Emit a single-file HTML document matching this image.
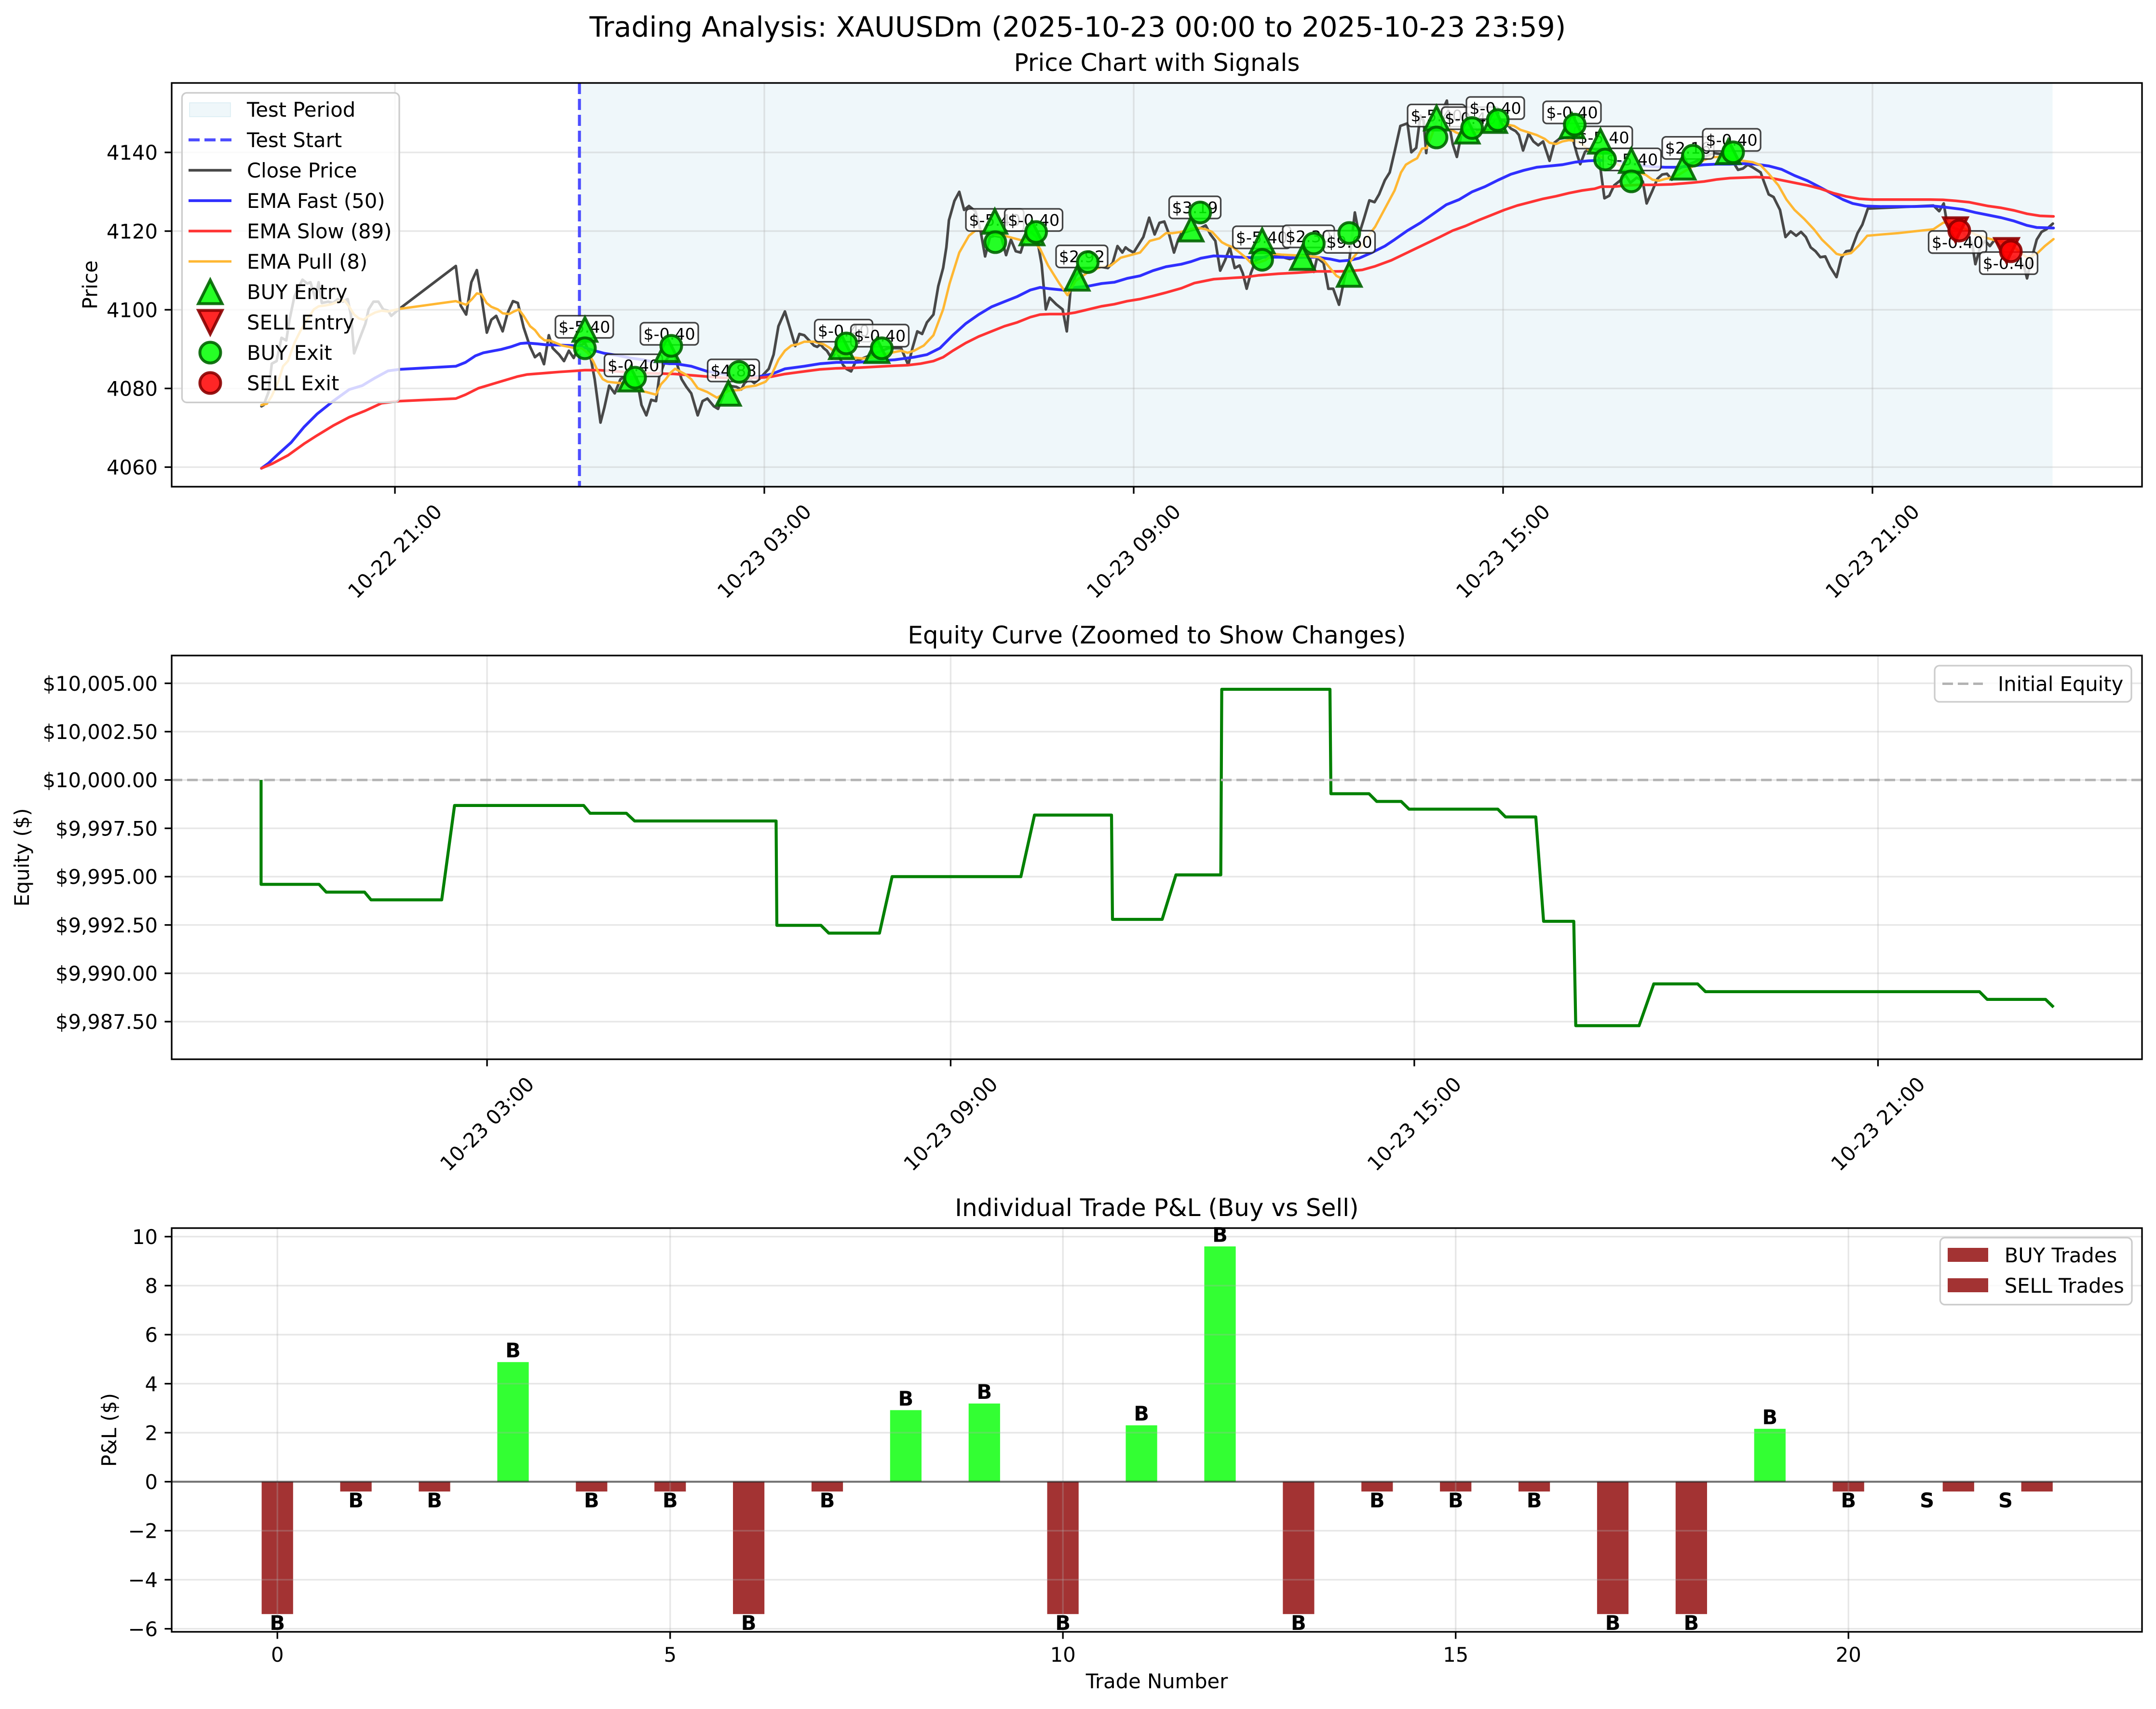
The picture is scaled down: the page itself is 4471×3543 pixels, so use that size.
<!DOCTYPE html>
<html><head><meta charset="utf-8"><style>
html,body{margin:0;padding:0;background:#fff;}
svg{display:block;}
text{font-family:"DejaVu Sans","Liberation Sans",sans-serif;fill:#000;}
.tk{font-size:41.67px;}
.gr{stroke:#b0b0b0;stroke-opacity:0.3;stroke-width:3.33;fill:none;}
.sp{stroke:#000;stroke-width:3.33;fill:none;}
.tm{stroke:#000;stroke-width:3.33;}
.cl{fill:none;stroke:#484848;stroke-width:5.5;stroke-linejoin:round;stroke-linecap:round;}
.bl{fill:none;stroke:#2f2fff;stroke-width:5.8;stroke-linejoin:round;stroke-linecap:round;}
.rd{fill:none;stroke:#ff3333;stroke-width:5.5;stroke-linejoin:round;stroke-linecap:round;}
.og{fill:none;stroke:#ffb732;stroke-width:5;stroke-linejoin:round;stroke-linecap:round;}
.lb rect{fill:#fff;fill-opacity:0.8;stroke:#222;stroke-opacity:0.85;stroke-width:3.3;}
.lb text{font-size:33.3px;text-anchor:middle;}
.be{fill:#00ff00;fill-opacity:0.85;stroke:#006400;stroke-opacity:0.9;stroke-width:6;}
.se{fill:#ff0000;fill-opacity:0.85;stroke:#8b0000;stroke-opacity:0.9;stroke-width:6;}
.bb{fill:#a33333;}
.gb{fill:#33ff33;}
.bt{font-size:41.67px;font-weight:bold;text-anchor:middle;}
</style></head><body>
<svg width="4471" height="3543" viewBox="0 0 4471 3543" xmlns="http://www.w3.org/2000/svg">
<defs>
<path id="tu" d="M0,-24.5 L-24.5,24.5 L24.5,24.5 Z"/>
<path id="td" d="M0,24.5 L-24.5,-24.5 L24.5,-24.5 Z"/>
<clipPath id="c1"><rect x="356" y="172" width="4086" height="837"/></clipPath>
<clipPath id="c2"><rect x="356" y="1359" width="4086" height="837"/></clipPath>
</defs>
<rect x="0" y="0" width="4471" height="3543" fill="#fff"/>

<text x="2235" y="76" style="font-size:58.3px" text-anchor="middle">Trading Analysis: XAUUSDm (2025-10-23 00:00 to 2025-10-23 23:59)</text>

<!-- ============ PRICE CHART ============ -->
<text x="2399" y="147" style="font-size:50px" text-anchor="middle">Price Chart with Signals</text>
<rect x="1201.6" y="172" width="3054.9" height="837" fill="#add8e6" fill-opacity="0.2"/>
<g class="gr">
<line x1="819" y1="172" x2="819" y2="1009"/>
<line x1="1585" y1="172" x2="1585" y2="1009"/>
<line x1="2351" y1="172" x2="2351" y2="1009"/>
<line x1="3117" y1="172" x2="3117" y2="1009"/>
<line x1="3883" y1="172" x2="3883" y2="1009"/>
<line x1="356" y1="968.4" x2="4442" y2="968.4"/>
<line x1="356" y1="805.3" x2="4442" y2="805.3"/>
<line x1="356" y1="642.2" x2="4442" y2="642.2"/>
<line x1="356" y1="479.1" x2="4442" y2="479.1"/>
<line x1="356" y1="316" x2="4442" y2="316"/>
</g>
<line x1="1201.6" y1="172" x2="1201.6" y2="1009" stroke="#4d4dff" stroke-width="6.25" stroke-dasharray="23 10"/>

<g clip-path="url(#c1)">
<g transform="translate(356,170) scale(0.66964,0.53571)">
<polyline vector-effect="non-scaling-stroke" class="cl" points="278,1255 285,1250 300,1200 310,1090 325,1080 340,990 355,1000 365,920 380,830 395,790 405,765 420,780 430,775 445,840 455,775 465,855 485,850 500,855 515,840 530,850 545,840 555,900 565,1050 580,1000 600,935 610,880 625,850 640,850 655,880 670,885 680,905 705,878 880,712 895,865 912,900 928,775 945,728 960,835 976,970 990,920 1005,905 1025,965 1040,895 1057,848 1072,855 1090,950 1110,1025 1125,1065 1140,1050 1153,1092 1168,980 1180,1030 1200,1055 1215,1080 1230,1040 1245,1068 1255,1040 1265,1020 1280,1010 1295,1050 1310,1150 1328,1318 1340,1260 1355,1175 1372,1205 1390,1150 1405,1140 1420,1150 1440,1145 1455,1250 1470,1290 1485,1230 1500,1235 1510,1140 1525,1090 1540,1060 1559,1060"/>
<polyline vector-effect="non-scaling-stroke" class="bl" points="278,1495 300,1475 330,1440 370,1395 410,1335 450,1285 500,1235 550,1190 590,1175 630,1145 670,1118 705,1112 880,1100 910,1085 940,1060 965,1048 990,1042 1020,1035 1050,1025 1080,1012 1100,1010 1130,1013 1160,1017 1200,1018 1240,1020 1280,1028 1310,1040 1340,1050 1380,1058 1420,1068 1460,1075 1500,1085 1540,1090 1559,1090"/>
<polyline vector-effect="non-scaling-stroke" class="rd" points="278,1495 310,1478 360,1445 410,1400 450,1368 500,1330 550,1297 600,1272 650,1243 705,1235 880,1225 910,1210 950,1185 990,1170 1030,1155 1070,1140 1100,1132 1150,1127 1200,1122 1250,1118 1280,1115 1320,1115 1360,1118 1400,1122 1450,1127 1500,1128 1559,1130"/>
<polyline vector-effect="non-scaling-stroke" class="og" points="278,1250 295,1245 310,1215 330,1160 345,1100 360,1080 380,1010 400,960 420,920 440,880 455,868 475,865 495,860 515,850 535,845 550,870 565,900 580,915 595,920 610,905 630,892 650,885 670,888 705,878 880,848 895,855 912,862 930,840 945,818 960,822 975,855 990,870 1010,880 1025,895 1045,898 1060,888 1075,880 1090,905 1110,945 1125,960 1140,985 1155,1000 1170,1000 1190,1010 1210,1020 1230,1025 1250,1030 1270,1030 1290,1050 1305,1080 1320,1120 1335,1150 1350,1160 1370,1163 1390,1165 1410,1170 1430,1180 1450,1195 1470,1200 1485,1205 1500,1210 1515,1170 1530,1150 1545,1125 1559,1110"/>
</g>
<g transform="translate(1400,170) scale(0.66964,0.53571)">
<polyline vector-effect="non-scaling-stroke" class="cl" points="0,1060 8,1100 20,1150 35,1180 50,1205 70,1290 85,1235 100,1225 120,1255 133,1265 150,1210 165,1175 190,1180 205,1190 215,1165 230,1150 245,1165 260,1150 275,1130 290,1110 305,1055 320,945 340,888 355,950 372,1022 385,975 400,980 415,1000 430,1020 440,1025 450,1015 460,1030 470,1040 485,1070 500,1040 520,1095 530,1110 545,1120 560,1080 580,1070 600,1060 620,1050 640,1040 660,1030 680,1030 700,1030 710,1060 722,1095 735,1030 750,965 765,975 780,930 800,900 815,790 830,720 840,640 848,535 865,460 880,425 895,495 910,480 930,500 945,570 960,675 975,600 990,595 1010,600 1025,670 1040,610 1055,655 1070,660 1085,600 1100,580 1120,600 1135,705 1148,880 1160,835 1180,860 1200,880 1213,965 1225,800 1240,750 1260,720 1280,720 1300,715 1320,715 1340,720 1355,700 1370,635 1385,660 1395,640 1405,650 1420,660 1435,630 1450,600 1468,525 1485,590 1500,545 1515,540 1530,590 1545,660 1558,610 1568,585"/>
<polyline vector-effect="non-scaling-stroke" class="bl" points="0,1090 50,1100 100,1120 150,1130 200,1140 260,1140 300,1130 340,1110 400,1100 450,1090 500,1085 560,1085 620,1080 680,1075 740,1065 780,1055 820,1030 860,980 900,935 940,900 980,870 1020,850 1060,830 1100,805 1130,795 1160,800 1200,805 1240,795 1280,790 1320,780 1360,775 1400,760 1440,750 1480,730 1520,715 1568,705"/>
<polyline vector-effect="non-scaling-stroke" class="rd" points="0,1130 50,1135 100,1140 150,1145 200,1145 260,1145 300,1140 340,1130 400,1120 450,1112 500,1108 560,1106 620,1102 680,1098 720,1096 760,1090 800,1080 830,1065 860,1040 900,1010 940,985 980,965 1020,945 1060,930 1100,910 1130,900 1160,898 1210,898 1240,892 1280,880 1320,868 1360,860 1400,848 1440,840 1480,828 1520,815 1568,798"/>
<polyline vector-effect="non-scaling-stroke" class="og" points="0,1110 30,1130 50,1150 70,1185 100,1200 130,1222 165,1195 200,1192 220,1180 250,1175 280,1160 300,1130 320,1075 340,1040 360,1020 380,1015 400,1005 430,1005 460,1015 480,1030 500,1050 540,1065 580,1070 620,1065 660,1050 700,1040 720,1048 740,1040 770,1020 800,980 830,880 850,780 880,660 910,595 930,575 960,575 990,590 1020,595 1050,605 1080,615 1110,615 1130,645 1155,710 1190,780 1215,825 1240,770 1280,735 1320,715 1350,710 1380,680 1410,670 1440,660 1470,615 1500,605 1520,585 1540,585 1568,580"/>
</g>
<g transform="translate(2450,170) scale(0.66964,0.53571)">
<polyline vector-effect="non-scaling-stroke" class="cl" points="0,585 40,570 60,565 75,555 90,590 105,615 120,730 135,690 150,640 165,720 180,710 190,740 202,800 215,740 230,690 250,680 275,670 300,670 320,680 335,685 350,680 370,670 395,670 410,735 420,680 440,700 455,800 470,800 488,862 505,760 520,690 537,505 550,590 565,530 582,458 598,465 612,435 630,380 645,350 660,270 678,170 700,160 712,272 727,255 740,130 750,150 758,275 770,140 785,165 805,120 822,72 830,170 840,240 853,290 868,195 885,190 900,170 920,190 940,140 960,150 980,145 1000,150 1020,180 1035,190 1045,205 1058,265 1075,200 1090,230 1105,245 1120,230 1140,305 1155,235 1170,220 1190,215 1210,210 1225,280 1235,318 1250,270 1270,255 1290,265 1310,450 1325,440 1340,400 1360,380 1375,360 1390,390 1410,370 1418.6,375"/>
<polyline vector-effect="non-scaling-stroke" class="bl" points="0,705 30,695 60,682 100,673 140,675 180,678 220,680 260,678 300,678 340,680 380,678 420,678 460,685 490,693 520,690 550,682 590,660 630,635 660,610 700,575 740,545 780,510 820,475 860,455 900,425 940,405 980,380 1020,357 1060,342 1100,330 1140,325 1180,320 1220,310 1260,305 1300,303 1340,305 1380,312 1418.6,322"/>
<polyline vector-effect="non-scaling-stroke" class="rd" points="0,798 40,778 100,763 160,758 200,755 240,748 300,742 360,738 420,733 480,733 520,732 560,727 600,713 650,690 700,660 750,630 800,600 840,575 880,557 920,535 960,515 1000,495 1040,478 1080,465 1120,452 1160,442 1200,430 1240,420 1280,413 1300,405 1340,405 1380,400 1418.6,398"/>
<polyline vector-effect="non-scaling-stroke" class="og" points="0,580 30,568 55,565 75,570 95,580 110,600 125,620 140,630 160,640 180,660 200,680 215,700 235,700 260,690 285,665 310,668 340,670 370,672 400,675 425,678 440,690 460,720 480,750 495,760 510,730 525,690 545,660 570,610 600,560 630,490 660,420 680,350 695,320 715,305 730,295 745,258 760,255 780,190 800,165 830,180 850,195 870,205 890,200 910,195 940,190 980,165 1010,165 1030,170 1050,185 1075,195 1100,205 1125,220 1140,235 1160,240 1180,230 1200,225 1220,228 1240,240 1260,262 1280,275 1300,290 1330,305 1360,325 1390,335 1418.6,350"/>
</g>
<g transform="translate(3400,170) scale(0.66964,0.53571)">
<polyline vector-effect="non-scaling-stroke" class="cl" points="0,375 10,385 22,470 40,420 55,375 70,358 85,355 100,378 115,340 130,330 150,320 170,310 200,290 230,275 260,280 285,300 305,340 320,335 335,320 350,330 375,350 385,385 400,435 415,445 435,495 452,600 468,578 485,595 500,580 515,600 530,640 545,655 560,678 575,675 590,715 610,755 625,680 640,655 655,652 675,585 690,552 707,490 910,478 928,500 942,470 950,530 965,560 985,570 1000,580 1015,600 1030,625 1040,705 1055,640 1070,615 1085,635 1100,610 1120,640 1140,690 1160,675 1175,690 1190,710 1200,760 1215,680 1230,610 1245,580 1260,570 1280,548"/>
<polyline vector-effect="non-scaling-stroke" class="bl" points="0,322 40,328 80,330 120,330 160,325 200,320 240,318 280,318 320,316 360,318 400,325 440,338 480,362 520,382 560,408 600,435 630,455 660,470 700,480 750,482 800,482 850,482 910,480 950,485 1000,493 1040,505 1080,515 1120,525 1160,538 1200,555 1230,563 1282,565"/>
<polyline vector-effect="non-scaling-stroke" class="rd" points="0,398 50,398 100,396 160,390 200,385 240,377 280,372 320,370 360,368 400,370 440,380 480,390 520,400 560,413 600,430 640,443 680,452 720,455 800,455 900,455 940,456 980,460 1020,465 1040,470 1080,480 1120,487 1160,497 1200,510 1240,518 1282,520"/>
<polyline vector-effect="non-scaling-stroke" class="og" points="0,350 20,360 40,378 60,382 80,375 100,370 120,360 140,345 160,330 180,315 200,302 220,292 240,290 260,290 290,300 320,305 350,310 375,322 400,355 430,400 455,455 480,495 510,530 540,570 565,610 590,640 610,665 625,670 655,662 680,632 705,595 750,590 800,585 850,578 910,570 940,545 960,540 980,548 1010,570 1040,590 1070,602 1100,612 1130,620 1160,640 1180,660 1200,680 1230,665 1255,635 1282,608"/>
</g>

<!-- trade labels -->
<g class="lb">
<rect x="1151.8" y="654.5" width="120" height="46" rx="8"/><text x="1211.8" y="689.5">$-5.40</text>
<rect x="1253.5" y="734.5" width="120" height="46" rx="8"/><text x="1313.5" y="769.5">$-0.40</text>
<rect x="1328" y="669" width="120" height="46" rx="8"/><text x="1388" y="704">$-0.40</text>
<rect x="1467.5" y="745" width="107" height="46" rx="8"/><text x="1521" y="780">$4.88</text>
<rect x="1689.5" y="662.5" width="120" height="46" rx="8"/><text x="1749.5" y="697.5">$-0.40</text>
<rect x="1764.5" y="672.8" width="120" height="46" rx="8"/><text x="1824.5" y="707.8">$-0.40</text>
<rect x="2003" y="433" width="120" height="46" rx="8"/><text x="2063" y="468">$-5.40</text>
<rect x="2083.5" y="433" width="120" height="46" rx="8"/><text x="2143.5" y="468">$-0.40</text>
<rect x="2190" y="508.6" width="107" height="46" rx="8"/><text x="2243.5" y="543.6">$2.92</text>
<rect x="2424.5" y="407" width="107" height="46" rx="8"/><text x="2478" y="442">$3.19</text>
<rect x="2556.5" y="469" width="120" height="46" rx="8"/><text x="2616.5" y="504">$-5.40</text>
<rect x="2660" y="467" width="107" height="46" rx="8"/><text x="2713.5" y="502">$2.30</text>
<rect x="2744.5" y="478.3" width="107" height="46" rx="8"/><text x="2798" y="513.3">$9.60</text>
<rect x="2919" y="216.5" width="120" height="46" rx="8"/><text x="2979" y="251.5">$-5.40</text>
<rect x="2989.5" y="222" width="120" height="46" rx="8"/><text x="3049.5" y="257">$-0.40</text>
<rect x="3041" y="201" width="120" height="46" rx="8"/><text x="3101" y="236">$-0.40</text>
<rect x="3200" y="210" width="120" height="46" rx="8"/><text x="3260" y="245">$-0.40</text>
<rect x="3265" y="262" width="120" height="46" rx="8"/><text x="3325" y="297">$-5.40</text>
<rect x="3324.5" y="307.5" width="120" height="46" rx="8"/><text x="3384.5" y="342.5">$-5.40</text>
<rect x="3447" y="283.6" width="107" height="46" rx="8"/><text x="3500.5" y="318.6">$2.16</text>
<rect x="3531" y="267" width="120" height="46" rx="8"/><text x="3591" y="302">$-0.40</text>
<rect x="3999.5" y="478.8" width="120" height="46" rx="8"/><text x="4059.5" y="513.8">$-0.40</text>
<rect x="4105.4" y="522.5" width="120" height="46" rx="8"/><text x="4165.4" y="557.5">$-0.40</text>
</g>

<!-- entries -->
<g class="be">
<use href="#tu" x="1213" y="683"/>
<use href="#tu" x="1308" y="786"/>
<use href="#tu" x="1384" y="725"/>
<use href="#tu" x="1510.5" y="815.5"/>
<use href="#tu" x="1745" y="719"/>
<use href="#tu" x="1818.5" y="727"/>
<use href="#tu" x="2063" y="459"/>
<use href="#tu" x="2140" y="483"/>
<use href="#tu" x="2233.7" y="577"/>
<use href="#tu" x="2470" y="475"/>
<use href="#tu" x="2617.4" y="499.5"/>
<use href="#tu" x="2701" y="534"/>
<use href="#tu" x="2798" y="569"/>
<use href="#tu" x="2979" y="245"/>
<use href="#tu" x="3042.6" y="272"/>
<use href="#tu" x="3099.5" y="250"/>
<use href="#tu" x="3260" y="261"/>
<use href="#tu" x="3319" y="293"/>
<use href="#tu" x="3383" y="333"/>
<use href="#tu" x="3490.4" y="346.8"/>
<use href="#tu" x="3584" y="314.6"/>
</g>
<g class="se">
<use href="#td" x="4055" y="476"/>
<use href="#td" x="4161" y="519"/>
</g>
<!-- exits -->
<g class="be">
<circle cx="1213" cy="722" r="21.5"/>
<circle cx="1317" cy="783" r="21.5"/>
<circle cx="1392" cy="717" r="21.5"/>
<circle cx="1532.6" cy="771" r="21.5"/>
<circle cx="1755" cy="712" r="21.5"/>
<circle cx="1828.6" cy="722" r="21.5"/>
<circle cx="2064" cy="502" r="21.5"/>
<circle cx="2148.6" cy="481" r="21.5"/>
<circle cx="2255.8" cy="543.4" r="21.5"/>
<circle cx="2488.8" cy="440.5" r="21.5"/>
<circle cx="2617.4" cy="538.6" r="21.5"/>
<circle cx="2724.5" cy="504.8" r="21.5"/>
<circle cx="2798" cy="483" r="21.5"/>
<circle cx="2979" cy="285" r="21.5"/>
<circle cx="3052.7" cy="265.4" r="21.5"/>
<circle cx="3106" cy="249" r="21.5"/>
<circle cx="3265.6" cy="258.4" r="21.5"/>
<circle cx="3328.6" cy="330.7" r="21.5"/>
<circle cx="3383" cy="376" r="21.5"/>
<circle cx="3510.5" cy="322.7" r="21.5"/>
<circle cx="3594" cy="315.7" r="21.5"/>
</g>
<g class="se">
<circle cx="4063" cy="478" r="21.5"/>
<circle cx="4170" cy="521" r="21.5"/>
</g>
</g>

<!-- price legend -->
<rect x="377.4" y="192.5" width="450.6" height="641.8" rx="10" fill="#fff" fill-opacity="0.8" stroke="#cccccc" stroke-width="3.3"/>
<rect x="393" y="213" width="85" height="29" fill="#add8e6" fill-opacity="0.2" stroke="#add8e6" stroke-opacity="0.3" stroke-width="2"/>
<line x1="391" y1="290" x2="480" y2="290" stroke="#4d4dff" stroke-width="6.25" stroke-dasharray="23 10"/>
<line x1="391" y1="353" x2="480" y2="353" stroke="#484848" stroke-width="5.5"/>
<line x1="391" y1="416" x2="480" y2="416" stroke="#2f2fff" stroke-width="5.8"/>
<line x1="391" y1="479" x2="480" y2="479" stroke="#ff3333" stroke-width="5.5"/>
<line x1="391" y1="542" x2="480" y2="542" stroke="#ffb732" stroke-width="5"/>
<use href="#tu" x="436" y="605" class="be"/>
<use href="#td" x="436" y="668" class="se"/>
<circle cx="436" cy="731" r="21.5" class="be"/>
<circle cx="436" cy="794" r="21.5" class="se"/>
<g class="tk">
<text x="512" y="242">Test Period</text>
<text x="512" y="305">Test Start</text>
<text x="512" y="368">Close Price</text>
<text x="512" y="431">EMA Fast (50)</text>
<text x="512" y="494">EMA Slow (89)</text>
<text x="512" y="557">EMA Pull (8)</text>
<text x="512" y="620">BUY Entry</text>
<text x="512" y="683">SELL Entry</text>
<text x="512" y="746">BUY Exit</text>
<text x="512" y="809">SELL Exit</text>
</g>

<rect x="356" y="172" width="4086" height="837" class="sp"/>
<g class="tm">
<line x1="341.4" y1="968.4" x2="356" y2="968.4"/>
<line x1="341.4" y1="805.3" x2="356" y2="805.3"/>
<line x1="341.4" y1="642.2" x2="356" y2="642.2"/>
<line x1="341.4" y1="479.1" x2="356" y2="479.1"/>
<line x1="341.4" y1="316" x2="356" y2="316"/>
<line x1="819" y1="1009" x2="819" y2="1023.6"/>
<line x1="1585" y1="1009" x2="1585" y2="1023.6"/>
<line x1="2351" y1="1009" x2="2351" y2="1023.6"/>
<line x1="3117" y1="1009" x2="3117" y2="1023.6"/>
<line x1="3883" y1="1009" x2="3883" y2="1023.6"/>
</g>
<g class="tk" text-anchor="end">
<text x="327" y="983.6">4060</text>
<text x="327" y="820.5">4080</text>
<text x="327" y="657.4">4100</text>
<text x="327" y="494.3">4120</text>
<text x="327" y="331.2">4140</text>
</g>
<g class="tk" text-anchor="middle" dominant-baseline="central">
<text transform="translate(819,1143) rotate(-45)">10-22 21:00</text>
<text transform="translate(1585,1143) rotate(-45)">10-23 03:00</text>
<text transform="translate(2351,1143) rotate(-45)">10-23 09:00</text>
<text transform="translate(3117,1143) rotate(-45)">10-23 15:00</text>
<text transform="translate(3883,1143) rotate(-45)">10-23 21:00</text>
</g>
<text class="tk" transform="translate(201.5,590.5) rotate(-90)" text-anchor="middle">Price</text>

<!-- ============ EQUITY CHART ============ -->
<text x="2399" y="1334" style="font-size:50px" text-anchor="middle">Equity Curve (Zoomed to Show Changes)</text>
<g class="gr">
<line x1="1010" y1="1359" x2="1010" y2="2196"/>
<line x1="1971.4" y1="1359" x2="1971.4" y2="2196"/>
<line x1="2932.9" y1="1359" x2="2932.9" y2="2196"/>
<line x1="3894.5" y1="1359" x2="3894.5" y2="2196"/>
<line x1="356" y1="1416.6" x2="4442" y2="1416.6"/>
<line x1="356" y1="1516.8" x2="4442" y2="1516.8"/>
<line x1="356" y1="1617" x2="4442" y2="1617"/>
<line x1="356" y1="1717.2" x2="4442" y2="1717.2"/>
<line x1="356" y1="1817.4" x2="4442" y2="1817.4"/>
<line x1="356" y1="1917.6" x2="4442" y2="1917.6"/>
<line x1="356" y1="2017.8" x2="4442" y2="2017.8"/>
<line x1="356" y1="2118" x2="4442" y2="2118"/>
</g>
<g clip-path="url(#c2)">
<polyline fill="none" stroke="#008000" stroke-width="6.25" stroke-linejoin="round" points="541.4,1617 541.4,1833.4 661.6,1833.4 676.5,1849.5 756,1849.5 769.4,1865.5 916,1865.5 942.6,1669.9 1210.4,1669.9 1223.7,1686 1299,1686 1316,1702 1609.4,1702 1611,1918.4 1702.4,1918.4 1718.6,1934.5 1823.8,1934.5 1850,1817.4 2117,1817.4 2145.3,1689.7 2305,1689.7 2307,1906 2410,1906 2438.6,1813.8 2531.6,1813.8 2533.6,1429 2758,1429 2760,1645.5 2839,1645.5 2855,1661.5 2905.7,1661.5 2922,1677.5 3106,1677.5 3122,1693.6 3184.8,1693.6 3201,1910 3263.6,1910 3267.7,2126.4 3399,2126.4 3429.5,2039.8 3520.5,2039.8 3536.7,2055.9 4105,2055.9 4121,2071.9 4242,2071.9 4258.6,2088"/>
<line x1="356" y1="1617" x2="4442" y2="1617" stroke="#b3b3b3" stroke-width="5" stroke-dasharray="22 10"/>
</g>
<rect x="4012" y="1380" width="408" height="75" rx="10" fill="#fff" fill-opacity="0.8" stroke="#cccccc" stroke-width="3.3"/>
<line x1="4028" y1="1417.5" x2="4112" y2="1417.5" stroke="#b3b3b3" stroke-width="5" stroke-dasharray="22 10"/>
<text class="tk" x="4143" y="1432.5">Initial Equity</text>
<rect x="356" y="1359" width="4086" height="837" class="sp"/>
<g class="tm">
<line x1="341.4" y1="1416.6" x2="356" y2="1416.6"/>
<line x1="341.4" y1="1516.8" x2="356" y2="1516.8"/>
<line x1="341.4" y1="1617" x2="356" y2="1617"/>
<line x1="341.4" y1="1717.2" x2="356" y2="1717.2"/>
<line x1="341.4" y1="1817.4" x2="356" y2="1817.4"/>
<line x1="341.4" y1="1917.6" x2="356" y2="1917.6"/>
<line x1="341.4" y1="2017.8" x2="356" y2="2017.8"/>
<line x1="341.4" y1="2118" x2="356" y2="2118"/>
<line x1="1010" y1="2196" x2="1010" y2="2210.6"/>
<line x1="1971.4" y1="2196" x2="1971.4" y2="2210.6"/>
<line x1="2932.9" y1="2196" x2="2932.9" y2="2210.6"/>
<line x1="3894.5" y1="2196" x2="3894.5" y2="2210.6"/>
</g>
<g class="tk" text-anchor="end">
<text x="327" y="1431.8">$10,005.00</text>
<text x="327" y="1532">$10,002.50</text>
<text x="327" y="1632.2">$10,000.00</text>
<text x="327" y="1732.4">$9,997.50</text>
<text x="327" y="1832.6">$9,995.00</text>
<text x="327" y="1932.8">$9,992.50</text>
<text x="327" y="2033">$9,990.00</text>
<text x="327" y="2133.2">$9,987.50</text>
</g>
<g class="tk" text-anchor="middle" dominant-baseline="central">
<text transform="translate(1010,2330) rotate(-45)">10-23 03:00</text>
<text transform="translate(1971.4,2330) rotate(-45)">10-23 09:00</text>
<text transform="translate(2932.9,2330) rotate(-45)">10-23 15:00</text>
<text transform="translate(3894.5,2330) rotate(-45)">10-23 21:00</text>
</g>
<text class="tk" transform="translate(60,1777.5) rotate(-90)" text-anchor="middle">Equity ($)</text>

<!-- ============ P&L CHART ============ -->
<text x="2399" y="2521" style="font-size:50px" text-anchor="middle">Individual Trade P&amp;L (Buy vs Sell)</text>
<g>
<rect class="bb" x="542.6" y="3071.8" width="65.2" height="274.4"/>
<rect class="bb" x="705.5" y="3071.8" width="65.2" height="20.3"/>
<rect class="bb" x="868.4" y="3071.8" width="65.2" height="20.3"/>
<rect class="gb" x="1031.3" y="2823.8" width="65.2" height="248"/>
<rect class="bb" x="1194.2" y="3071.8" width="65.2" height="20.3"/>
<rect class="bb" x="1357.1" y="3071.8" width="65.2" height="20.3"/>
<rect class="bb" x="1520" y="3071.8" width="65.2" height="274.4"/>
<rect class="bb" x="1682.9" y="3071.8" width="65.2" height="20.3"/>
<rect class="gb" x="1845.8" y="2923.4" width="65.2" height="148.4"/>
<rect class="gb" x="2008.7" y="2909.7" width="65.2" height="162.1"/>
<rect class="bb" x="2171.6" y="3071.8" width="65.2" height="274.4"/>
<rect class="gb" x="2334.5" y="2954.9" width="65.2" height="116.9"/>
<rect class="gb" x="2497.4" y="2584" width="65.2" height="487.8"/>
<rect class="bb" x="2660.3" y="3071.8" width="65.2" height="274.4"/>
<rect class="bb" x="2823.2" y="3071.8" width="65.2" height="20.3"/>
<rect class="bb" x="2986.1" y="3071.8" width="65.2" height="20.3"/>
<rect class="bb" x="3149" y="3071.8" width="65.2" height="20.3"/>
<rect class="bb" x="3311.9" y="3071.8" width="65.2" height="274.4"/>
<rect class="bb" x="3474.8" y="3071.8" width="65.2" height="274.4"/>
<rect class="gb" x="3637.7" y="2962.1" width="65.2" height="109.7"/>
<rect class="bb" x="3800.6" y="3071.8" width="65.2" height="20.3"/>
<rect class="bb" x="4028.7" y="3071.8" width="65.2" height="20.3"/>
<rect class="bb" x="4191.6" y="3071.8" width="65.2" height="20.3"/>
</g>
<g class="gr">
<line x1="575.2" y1="2546" x2="575.2" y2="3383"/>
<line x1="1389.7" y1="2546" x2="1389.7" y2="3383"/>
<line x1="2204.2" y1="2546" x2="2204.2" y2="3383"/>
<line x1="3018.7" y1="2546" x2="3018.7" y2="3383"/>
<line x1="3833.2" y1="2546" x2="3833.2" y2="3383"/>
<line x1="356" y1="2563.7" x2="4442" y2="2563.7"/>
<line x1="356" y1="2665.3" x2="4442" y2="2665.3"/>
<line x1="356" y1="2766.9" x2="4442" y2="2766.9"/>
<line x1="356" y1="2868.6" x2="4442" y2="2868.6"/>
<line x1="356" y1="2970.2" x2="4442" y2="2970.2"/>
<line x1="356" y1="3071.8" x2="4442" y2="3071.8"/>
<line x1="356" y1="3173.4" x2="4442" y2="3173.4"/>
<line x1="356" y1="3275" x2="4442" y2="3275"/>
<line x1="356" y1="3376.7" x2="4442" y2="3376.7"/>
</g>
<line x1="356" y1="3071.8" x2="4442" y2="3071.8" stroke="#000" stroke-opacity="0.5" stroke-width="4.2"/>
<g class="bt">
<text x="575.2" y="3379">B</text>
<text x="738.1" y="3125">B</text>
<text x="901" y="3125">B</text>
<text x="1063.9" y="2814">B</text>
<text x="1226.8" y="3125">B</text>
<text x="1389.7" y="3125">B</text>
<text x="1552.6" y="3379">B</text>
<text x="1715.5" y="3125">B</text>
<text x="1878.4" y="2914">B</text>
<text x="2041.3" y="2900">B</text>
<text x="2204.2" y="3379">B</text>
<text x="2367.1" y="2945">B</text>
<text x="2530" y="2574.5">B</text>
<text x="2692.9" y="3379">B</text>
<text x="2855.8" y="3125">B</text>
<text x="3018.7" y="3125">B</text>
<text x="3181.6" y="3125">B</text>
<text x="3344.5" y="3379">B</text>
<text x="3507.4" y="3379">B</text>
<text x="3670.3" y="2952.5">B</text>
<text x="3833.2" y="3125">B</text>
<text x="3996.1" y="3125">S</text>
<text x="4159" y="3125">S</text>
</g>
<rect x="4023.4" y="2565.8" width="397.6" height="138.9" rx="10" fill="#fff" fill-opacity="0.8" stroke="#cccccc" stroke-width="3.3"/>
<rect x="4039" y="2587" width="84" height="29" fill="#a33333"/>
<rect x="4039" y="2650" width="84" height="29" fill="#a33333"/>
<text class="tk" x="4156.7" y="2617">BUY Trades</text>
<text class="tk" x="4156.7" y="2680">SELL Trades</text>
<rect x="356" y="2546" width="4086" height="837" class="sp"/>
<g class="tm">
<line x1="341.4" y1="2563.7" x2="356" y2="2563.7"/>
<line x1="341.4" y1="2665.3" x2="356" y2="2665.3"/>
<line x1="341.4" y1="2766.9" x2="356" y2="2766.9"/>
<line x1="341.4" y1="2868.6" x2="356" y2="2868.6"/>
<line x1="341.4" y1="2970.2" x2="356" y2="2970.2"/>
<line x1="341.4" y1="3071.8" x2="356" y2="3071.8"/>
<line x1="341.4" y1="3173.4" x2="356" y2="3173.4"/>
<line x1="341.4" y1="3275" x2="356" y2="3275"/>
<line x1="341.4" y1="3376.7" x2="356" y2="3376.7"/>
<line x1="575.2" y1="3383" x2="575.2" y2="3397.6"/>
<line x1="1389.7" y1="3383" x2="1389.7" y2="3397.6"/>
<line x1="2204.2" y1="3383" x2="2204.2" y2="3397.6"/>
<line x1="3018.7" y1="3383" x2="3018.7" y2="3397.6"/>
<line x1="3833.2" y1="3383" x2="3833.2" y2="3397.6"/>
</g>
<g class="tk" text-anchor="end">
<text x="327" y="2578.9">10</text>
<text x="327" y="2680.5">8</text>
<text x="327" y="2782.1">6</text>
<text x="327" y="2883.8">4</text>
<text x="327" y="2985.4">2</text>
<text x="327" y="3087">0</text>
<text x="327" y="3188.6">−2</text>
<text x="327" y="3290.2">−4</text>
<text x="327" y="3391.9">−6</text>
</g>
<g class="tk" text-anchor="middle">
<text x="575.2" y="3445">0</text>
<text x="1389.7" y="3445">5</text>
<text x="2204.2" y="3445">10</text>
<text x="3018.7" y="3445">15</text>
<text x="3833.2" y="3445">20</text>
</g>
<text class="tk" x="2399" y="3500" text-anchor="middle">Trade Number</text>
<text class="tk" transform="translate(241,2964.5) rotate(-90)" text-anchor="middle">P&amp;L ($)</text>
</svg>
</body></html>
